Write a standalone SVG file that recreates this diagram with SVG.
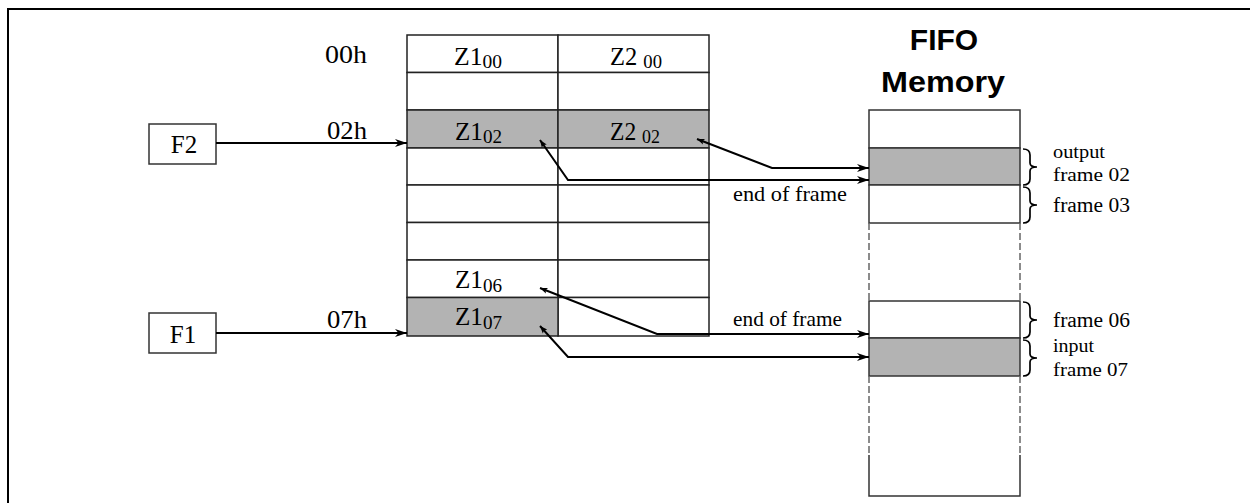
<svg xmlns="http://www.w3.org/2000/svg" width="1250" height="503" viewBox="0 0 1250 503">
<style>
.t{font-family:"Liberation Serif","Times New Roman",serif;fill:#000}
.cell{stroke:#222;stroke-width:1.5}
.w{fill:#fff}
.g{fill:#b3b3b3}
.conn{fill:none;stroke:#000;stroke-width:2}
.brace{fill:none;stroke:#000;stroke-width:1.7}
.title{font-family:"Liberation Sans",Arial,sans-serif;font-weight:bold;font-size:30px;fill:#000}
</style>
<defs>
<marker id="ah" markerWidth="13" markerHeight="9" refX="12" refY="4.5" orient="auto" markerUnits="userSpaceOnUse">
<path d="M0,0.5 L12,4.5 L0,8.5 L3.5,4.5 z" fill="#000"/>
</marker>
<marker id="dot" markerWidth="8" markerHeight="7" refX="0" refY="3.5" orient="auto" markerUnits="userSpaceOnUse">
<path d="M0,3.5 L7.5,0.5 L6,3.5 L7.5,6.5 z" fill="#000"/>
</marker>
</defs>
<rect width="1250" height="503" fill="#fff"/>
<g id="frame"><path d="M8,503 V9 H1250" fill="none" stroke="#000" stroke-width="2"/></g>

<g id="table">
<rect class="cell w" x="407" y="35" width="151" height="37.5"/>
<rect class="cell w" x="558" y="35" width="151" height="37.5"/>
<rect class="cell w" x="407" y="72.5" width="151" height="37.5"/>
<rect class="cell w" x="558" y="72.5" width="151" height="37.5"/>
<rect class="cell g" x="407" y="110" width="151" height="38"/>
<rect class="cell g" x="558" y="110" width="151" height="38"/>
<rect class="cell w" x="407" y="148" width="151" height="37"/>
<rect class="cell w" x="558" y="148" width="151" height="37"/>
<rect class="cell w" x="407" y="185" width="151" height="37.5"/>
<rect class="cell w" x="558" y="185" width="151" height="37.5"/>
<rect class="cell w" x="407" y="222.5" width="151" height="37.5"/>
<rect class="cell w" x="558" y="222.5" width="151" height="37.5"/>
<rect class="cell w" x="407" y="260" width="151" height="37.5"/>
<rect class="cell w" x="558" y="260" width="151" height="37.5"/>
<rect class="cell w" x="558" y="297.5" width="151" height="38.5"/>
<rect class="cell g" x="407" y="297.5" width="151" height="38.5"/>
</g>

<g id="cell-labels">
<text class="t" x="454" y="65" font-size="25" textLength="48" lengthAdjust="spacingAndGlyphs">Z1<tspan font-size="19" dy="3">00</tspan></text>
<text class="t" x="610" y="65" font-size="25" textLength="52" lengthAdjust="spacingAndGlyphs">Z2 <tspan font-size="19" dy="3">00</tspan></text>
<text class="t" x="455" y="140" font-size="25" textLength="47" lengthAdjust="spacingAndGlyphs">Z1<tspan font-size="19" dy="3">02</tspan></text>
<text class="t" x="610" y="140" font-size="25" textLength="50" lengthAdjust="spacingAndGlyphs">Z2 <tspan font-size="19" dy="3">02</tspan></text>
<text class="t" x="455" y="288" font-size="25" textLength="47" lengthAdjust="spacingAndGlyphs">Z1<tspan font-size="19" dy="4">06</tspan></text>
<text class="t" x="455" y="325" font-size="25" textLength="47" lengthAdjust="spacingAndGlyphs">Z1<tspan font-size="19" dy="4">07</tspan></text>
</g>

<g id="addr-labels">
<text class="t" x="325" y="63" font-size="25" textLength="42" lengthAdjust="spacingAndGlyphs">00h</text>
<text class="t" x="327" y="139" font-size="25" textLength="40" lengthAdjust="spacingAndGlyphs">02h</text>
<text class="t" x="327" y="328" font-size="25" textLength="40" lengthAdjust="spacingAndGlyphs">07h</text>
</g>

<g id="F2">
<rect x="149" y="124" width="67" height="40" fill="#fff" stroke="#333" stroke-width="1.5"/>
<text class="t" x="184" y="153" font-size="25" text-anchor="middle">F2</text>
</g>
<g id="F1">
<rect x="149" y="313" width="67" height="40" fill="#fff" stroke="#333" stroke-width="1.5"/>
<text class="t" x="183" y="343" font-size="25" text-anchor="middle">F1</text>
</g>

<g id="fifo">
<text class="title" x="944" y="50" text-anchor="middle">FIFO</text>
<text class="title" x="943" y="92" text-anchor="middle" textLength="124" lengthAdjust="spacingAndGlyphs">Memory</text>
<rect x="869" y="110" width="151" height="38" fill="#fff" stroke="#333" stroke-width="1.5"/>
<rect x="869" y="148" width="151" height="37" fill="#b3b3b3" stroke="#333" stroke-width="1.5"/>
<rect x="869" y="185" width="151" height="38" fill="#fff" stroke="#333" stroke-width="1.5"/>
<path d="M869,223 V301 M1020,223 V301" stroke="#666" stroke-width="1.5" stroke-dasharray="7,3"/>
<rect x="869" y="301" width="151" height="37" fill="#fff" stroke="#333" stroke-width="1.5"/>
<rect x="869" y="338" width="151" height="38" fill="#b3b3b3" stroke="#333" stroke-width="1.5"/>
<path d="M869,376 V455 M1020,376 V455" stroke="#666" stroke-width="1.5" stroke-dasharray="7,3"/>
<path d="M869,455 V496 H1020 V455" fill="none" stroke="#333" stroke-width="1.5"/>
</g>

<g id="braces">
<path class="brace" d="M1023,149 Q1030,149 1030,155 L1030,163 Q1030,167 1037,167 Q1030,167 1030,171 L1030,179 Q1030,185 1023,185"/>
<path class="brace" d="M1023,187 Q1030,187 1030,193 L1030,201 Q1030,205 1037,205 Q1030,205 1030,209 L1030,217 Q1030,223 1023,223"/>
<path class="brace" d="M1023,302 Q1030,302 1030,308 L1030,316 Q1030,320 1037,320 Q1030,320 1030,324 L1030,332 Q1030,338 1023,338"/>
<path class="brace" d="M1023,340 Q1030,340 1030,346 L1030,354 Q1030,358 1037,358 Q1030,358 1030,362 L1030,370 Q1030,376 1023,376"/>
</g>

<g id="fifo-labels">
<text class="t" x="1053" y="158" font-size="19" textLength="52" lengthAdjust="spacingAndGlyphs">output</text>
<text class="t" x="1053" y="181" font-size="19" textLength="77" lengthAdjust="spacingAndGlyphs">frame 02</text>
<text class="t" x="1053" y="212" font-size="20" textLength="77" lengthAdjust="spacingAndGlyphs">frame 03</text>
<text class="t" x="1053" y="327" font-size="20" textLength="77" lengthAdjust="spacingAndGlyphs">frame 06</text>
<text class="t" x="1053" y="352" font-size="19" textLength="41" lengthAdjust="spacingAndGlyphs">input</text>
<text class="t" x="1053" y="376" font-size="19" textLength="75" lengthAdjust="spacingAndGlyphs">frame 07</text>
<text class="t" x="733" y="201" font-size="21" textLength="114" lengthAdjust="spacingAndGlyphs">end of frame</text>
<text class="t" x="733" y="326" font-size="21" textLength="109" lengthAdjust="spacingAndGlyphs">end of frame</text>
</g>

<g id="connectors">
<path class="conn" d="M216,143 H407" marker-end="url(#ah)"/>
<path class="conn" d="M216,333 H407" marker-end="url(#ah)"/>
<path class="conn" d="M540,140 L568,180 H869" marker-start="url(#dot)" marker-end="url(#ah)"/>
<path class="conn" d="M697,139 L772,168 H869" marker-start="url(#dot)" marker-end="url(#ah)"/>
<path class="conn" d="M540,288 L657,334 H869" marker-start="url(#dot)" marker-end="url(#ah)"/>
<path class="conn" d="M540,326 L568,357 H869" marker-start="url(#dot)" marker-end="url(#ah)"/>
</g>
</svg>
